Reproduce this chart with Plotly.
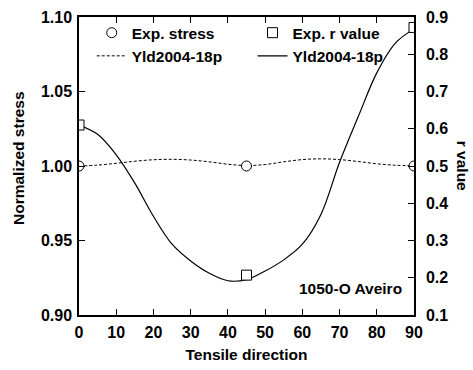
import plotly.graph_objects as go

# Data
exp_angle = [0, 45, 90]
exp_stress = [1.000, 1.000, 1.000]
exp_r = [0.61, 0.207, 0.872]

model_angle = [0, 5, 10, 15, 20, 25, 30, 35, 40, 45, 50, 55, 60, 65, 70, 75, 80, 85, 90]
model_stress = [1.000, 1.0006, 1.0018, 1.0032, 1.0042, 1.0045, 1.0040, 1.0028, 1.0012, 1.0003,
                1.0010, 1.0028, 1.0043, 1.0048, 1.0043, 1.0030, 1.0015, 1.0005, 1.0002]
model_r = [0.61, 0.585, 0.53, 0.454, 0.365, 0.29, 0.245, 0.212, 0.192, 0.195,
           0.218, 0.248, 0.29, 0.37, 0.51, 0.632, 0.75, 0.83, 0.868]

x_ticks = [0, 10, 20, 30, 40, 50, 60, 70, 80, 90]

FONT = "Liberation Sans"
TF = dict(family=FONT, size=16, color="black", weight="bold")
LF = dict(family=FONT, size=15.5, color="black", weight="bold")

fig = go.Figure()

fig.add_trace(go.Scatter(x=model_angle, y=model_stress, mode="lines", name="Yld2004-18p",
                         line=dict(color="black", width=1, dash="3px,2px", shape="spline"),
                         legend="legend", legendrank=2, yaxis="y"))
fig.add_trace(go.Scatter(x=model_angle, y=model_r, mode="lines", name="Yld2004-18p",
                         line=dict(color="black", width=1.2, shape="spline"),
                         legend="legend2", legendrank=2, yaxis="y2"))
fig.add_trace(go.Scatter(x=exp_angle, y=exp_stress, mode="markers", name="Exp. stress",
                         marker=dict(symbol="circle", size=10, color="white",
                                     line=dict(color="black", width=1)),
                         legend="legend", legendrank=1, yaxis="y"))
fig.add_trace(go.Scatter(x=exp_angle, y=exp_r, mode="markers", name="Exp. r value",
                         marker=dict(symbol="square", size=10, color="white",
                                     line=dict(color="black", width=1)),
                         legend="legend2", legendrank=1, yaxis="y2"))

fig.update_layout(
    width=473, height=370,
    margin=dict(l=79, r=59, t=17, b=55, autoexpand=False),
    paper_bgcolor="white", plot_bgcolor="white",
    font=dict(family=FONT, color="black"),
    xaxis=dict(range=[0, 90], tickvals=x_ticks, ticks="inside", ticklen=6, tickwidth=1,
               tickcolor="black", showline=True, linecolor="black", linewidth=1.5,
               mirror="ticks", showgrid=False, zeroline=False, tickfont=TF,
               ticklabelstandoff=2, automargin=False,
               title=dict(text="Tensile direction", font=LF, standoff=9)),
    yaxis=dict(range=[0.9, 1.1], dtick=0.05, tickformat=".2f", ticks="inside", ticklen=6,
               tickwidth=1, tickcolor="black", showline=True, linecolor="black",
               linewidth=1.5, showgrid=False, zeroline=False, tickfont=TF,
               ticklabelstandoff=2, automargin=False),
    yaxis2=dict(range=[0.1, 0.9], dtick=0.1, tickformat=".1f", ticks="inside", ticklen=6,
                tickwidth=1, tickcolor="black", showline=True, linecolor="black",
                linewidth=1.5, showgrid=False, zeroline=False, tickfont=TF,
                ticklabelstandoff=7, automargin=False, overlaying="y", side="right"),
    legend=dict(x=0.038, y=1.003, xanchor="left", yanchor="top", bgcolor="rgba(0,0,0,0)",
                font=LF, tracegroupgap=0, itemwidth=30),
    legend2=dict(x=0.518, y=1.003, xanchor="left", yanchor="top", bgcolor="rgba(0,0,0,0)",
                 font=LF, tracegroupgap=0, itemwidth=30),
    showlegend=True,
    annotations=[
        dict(text="Normalized stress", x=-0.1806, y=0.5285, xref="paper", yref="paper",
             xanchor="center", yanchor="middle", textangle=-90, showarrow=False, font=LF),
        dict(text="1050-O Aveiro", x=0.97, y=0.09, xref="paper", yref="paper",
             xanchor="right", yanchor="middle", showarrow=False, font=LF),
        dict(text="r value", x=1.147, y=0.5, xref="paper", yref="paper",
             xanchor="center", yanchor="middle", textangle=90, showarrow=False, font=LF),
    ],
)

fig.write_html("out.html")
